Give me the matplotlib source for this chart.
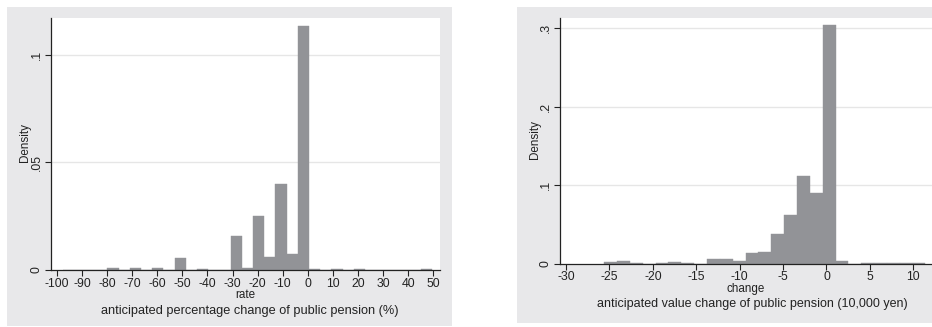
import numpy as np
import matplotlib
matplotlib.use('Agg')
import matplotlib.pyplot as plt
from matplotlib.patches import Rectangle

plt.rcParams['font.family'] = ['Liberation Sans', 'DejaVu Sans']

# left histogram: anticipated percentage change (33 bins)
rate_start = -97.7
rate_width = 4.46
rate_density = [0, 0, 0, 0, 0.001, 0, 0.001, 0, 0.001, 0, 0.0057,
                0, 0.0004, 0, 0, 0.0158, 0.001, 0.025, 0.006, 0.040, 0.0074,
                0.1136, 0.0004, 0, 0.0004, 0, 0.0004, 0, 0, 0, 0, 0, 0.0004]
rate_ticks = list(range(-100, 51, 10))
rate_yticks = [0, 0.05, 0.1]
rate_ylabels = ['0', '.05', '.1']

# right histogram: anticipated value change (25 bins)
chg_start = -25.6
chg_width = 1.48
chg_density = [0.0025, 0.0038, 0.0013, 0, 0.0013, 0.0025, 0.0013, 0,
               0.0064, 0.0064, 0.0038, 0.014, 0.0153, 0.038, 0.0623, 0.112,
               0.090, 0.304, 0.0038, 0, 0.0013, 0.0013, 0.0013, 0.0013, 0.0013]
chg_ticks = list(range(-30, 11, 5))
chg_yticks = [0, 0.1, 0.2, 0.3]
chg_ylabels = ['0', '.1', '.2', '.3']

W, H = 932, 327
bg = '#e8e8ea'
barc = '#929397'
gridc = '#e6e6e6'
axc = '#222222'
tfs = 8.8   # tick labels
afs = 8.4   # axis titles


def fx(px):
    return px / W


def fy(py):
    return 1 - py / H


fig = plt.figure(figsize=(W / 100, H / 100), dpi=100)

# gray graph regions (behind the axes)
for x0, y0, x1, y1 in [(7, 7, 452, 326), (517, 7, 932, 323)]:
    fig.patches.append(Rectangle((fx(x0), fy(y1)), fx(x1) - fx(x0), fy(y0) - fy(y1),
                                 transform=fig.transFigure, facecolor=bg,
                                 edgecolor='none', zorder=-5))


def hist_panel(ax, start, width, dens, xticks, yticks, ylabels, xlim, ylim, xpad, ypad):
    edges = start + width * np.arange(len(dens))
    ax.bar(edges, dens, width=width, align='edge', color=barc, edgecolor=barc,
           linewidth=0.3, zorder=2)
    ax.set_xlim(*xlim)
    ax.set_ylim(*ylim)
    ax.set_xticks(xticks)
    ax.set_xticklabels([str(t) for t in xticks])
    ax.set_yticks(yticks)
    ax.set_yticklabels(ylabels, rotation=90, va='center')
    for t in yticks[1:]:
        ax.axhline(t, color=gridc, lw=1.0, zorder=1)
    for s in ['top', 'right']:
        ax.spines[s].set_visible(False)
    for s in ['left', 'bottom']:
        ax.spines[s].set_color(axc)
        ax.spines[s].set_linewidth(0.9)
    ax.tick_params(axis='x', direction='out', length=4, width=0.8, color=axc,
                   labelsize=tfs, pad=xpad, labelcolor='#222222')
    ax.tick_params(axis='y', direction='out', length=4, width=0.8, color=axc,
                   labelsize=tfs, pad=ypad, labelcolor='#222222')
    ax.set_facecolor('white')


ax1 = fig.add_axes([fx(51), fy(270), fx(440) - fx(51), fy(18) - fy(270)])
hist_panel(ax1, rate_start, rate_width, rate_density, rate_ticks, rate_yticks,
           rate_ylabels, (-102.3, 52.6), (0, 0.1172), 2.0, 1.8)

ax2 = fig.add_axes([fx(560), fy(264), fx(932) - fx(560), fy(17.7) - fy(264)])
hist_panel(ax2, chg_start, chg_width, chg_density, chg_ticks, chg_yticks,
           chg_ylabels, (-30.69, 12.15), (0, 0.3133), 1.4, 1.8)

# titles and captions
fig.text(fx(25), fy(143), 'Density', rotation=90, ha='center', va='center', fontsize=afs, color='#222222')
fig.text(fx(245), fy(295), 'rate', ha='center', va='center', fontsize=afs, color='#222222')
fig.text(fx(250), fy(311), 'anticipated percentage change of public pension (%)',
         ha='center', va='center', fontsize=9.2, color='#222222')

fig.text(fx(535), fy(140), 'Density', rotation=90, ha='center', va='center', fontsize=afs, color='#222222')
fig.text(fx(746), fy(289), 'change', ha='center', va='center', fontsize=afs, color='#222222')
fig.text(fx(752.7), fy(304.5), 'anticipated value change of public pension (10,000 yen)',
         ha='center', va='center', fontsize=9, color='#222222')

fig.savefig('out.png', dpi=100)
